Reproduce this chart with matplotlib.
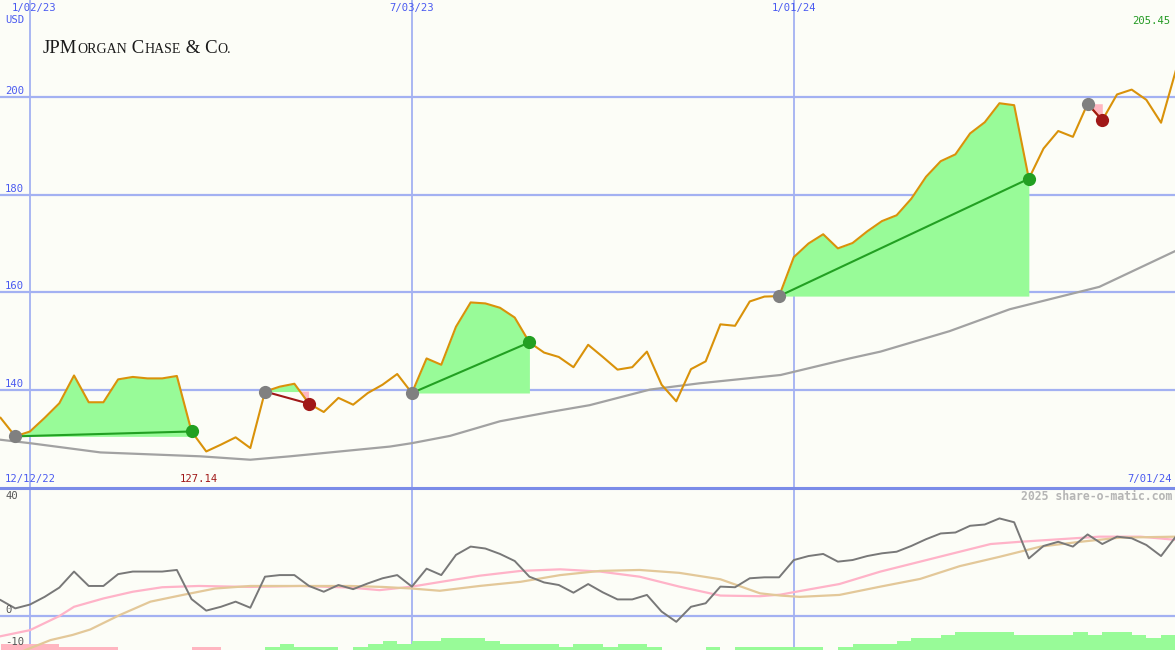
import numpy as np
import matplotlib
matplotlib.use("Agg")
import matplotlib.pyplot as plt
from matplotlib.lines import Line2D

# --- data (weekly, week 0 = 12/19/22) ---
price = [134.2, 130.4, 131.4, 134.2, 137.2, 142.9, 137.4, 137.4, 142.1, 142.6,
         142.3, 142.3, 142.8, 131.4, 127.3, 128.7, 130.2, 128.0, 139.6, 140.6,
         141.2, 137.1, 135.4, 138.3, 136.9, 139.3, 141.0, 143.2, 139.3, 146.4,
         145.1, 152.9, 157.9, 157.7, 156.8, 154.8, 149.7, 147.6, 146.7, 144.6,
         149.2, 146.7, 144.1, 144.6, 147.8, 141.0, 137.6, 144.2, 145.8, 153.4,
         153.1, 158.1, 159.1, 159.2, 167.2, 170.0, 171.9, 169.0, 170.1, 172.5,
         174.6, 175.8, 179.2, 183.7, 186.9, 188.3, 192.6, 194.9, 198.8, 198.4,
         183.3, 189.5, 193.1, 191.9, 198.7, 195.3, 200.6, 201.6, 199.5, 194.8,
         205.45]

# long moving average (read at a few points)
ma_weeks = [0, 2, 6.8, 13.6, 17, 19.7, 23.1, 26.5, 28, 30.6, 34, 37.4, 40.1,
            44.2, 47.6, 53.1, 57.8, 59.9, 64.6, 68.7, 74.8, 80]
ma_values = [129.7, 129.0, 127.1, 126.3, 125.6, 126.3, 127.3, 128.3, 129.0, 130.5,
             133.5, 135.4, 136.8, 140.0, 141.3, 143.0, 146.4, 147.8, 152.0, 156.5,
             161.1, 168.5]

# trades: entry / exit week
trade_entry = [1, 18, 28, 53, 74]
trade_exit = [13, 21, 36, 70, 75]

# lower panel indicator
osc = [5.0, 2.4, 3.6, 6.0, 8.9, 13.9, 9.4, 9.4, 13.1, 13.9,
       13.9, 13.9, 14.4, 5.3, 1.7, 2.9, 4.5, 2.6, 12.3, 12.8,
       12.8, 9.4, 7.6, 9.7, 8.4, 10.2, 11.8, 12.8, 9.2, 14.8,
       12.8, 19.1, 21.7, 21.1, 19.4, 17.2, 12.3, 10.5, 9.7, 7.3,
       10.0, 7.4, 5.2, 5.2, 6.6, 1.4, -1.8, 2.9, 4.0, 9.2,
       9.0, 11.8, 12.1, 12.1, 17.5, 18.75, 19.4, 17.0, 17.5, 18.75,
       19.6, 20.1, 21.9, 24.0, 25.8, 26.1, 28.2, 28.6, 30.5, 29.3,
       18.0, 21.9, 23.2, 21.7, 25.5, 22.5, 24.8, 24.3, 22.2, 18.75,
       24.8]

pink_weeks = [0, 2, 4, 5, 7, 9, 11, 13.5, 17, 20.4, 23.8, 25.8, 28, 30, 32.6,
              35.4, 38.1, 40.8, 43.5, 46.2, 49, 51.7, 53.1, 54.4, 57.1, 59.9,
              62.6, 65.3, 67.4, 69.4, 72.1, 74.8, 77.6, 80]
pink_values = [-6.3, -4.4, 0, 2.9, 5.5, 7.6, 9.0, 9.4, 9.1, 9.4, 8.9, 8.1, 9.2,
               10.7, 12.6, 14.1, 14.6, 13.9, 12.3, 9.2, 6.4, 6.2, 6.7, 7.8, 10.0,
               13.9, 17.0, 20.1, 22.5, 23.2, 24.0, 24.8, 24.8, 23.8]

tan_weeks = [0.8, 1.7, 3.4, 4.9, 6.1, 8.1, 10.2, 12.4, 14.6, 17, 20.4, 23.8, 26,
             28, 29.9, 32.6, 35.4, 38.1, 40.8, 43.5, 46.2, 49, 51.7, 53.1, 54.4,
             57.1, 59.9, 62.6, 65.3, 68, 70.8, 73.5, 76.2, 80]
tan_values = [-12.5, -10.6, -7.5, -5.9, -4.2, 0.3, 4.5, 6.6, 8.6, 9.4, 9.4, 9.4,
              9.1, 8.6, 7.9, 9.4, 10.7, 12.8, 14.1, 14.4, 13.5, 11.5, 7.1, 6.4,
              6.0, 6.6, 9.2, 11.6, 15.6, 18.5, 21.7, 23.2, 24.5, 24.8]

hist = [-2, -2, -2, -2, -1, -1, -1, -1, 0, 0,
        0, 0, 0, -1, -1, 0, 0, 0, 1, 2,
        1, 1, 1, 0, 1, 2, 3, 2, 3, 3,
        4, 4, 4, 3, 2, 2, 2, 2, 1, 2,
        2, 1, 2, 2, 1, 0, 0, 0, 1, 0,
        1, 1, 1, 1, 1, 1, 0, 1, 2, 2,
        2, 3, 4, 4, 5, 6, 6, 6, 6, 5,
        5, 5, 5, 6, 5, 6, 6, 5, 4, 5,
        5]

date_weeks = [2, 28, 54]
date_labels = ["1/02/23", "7/03/23", "1/01/24"]
price_ticks = [140, 160, 180, 200]
osc_ticks = [40, 0, -10]

# --- style ---
W, H = 1175, 650
bg = "#fcfdf7"
grid_c = "#a3b1f2"
sep_c = "#7b8ce8"
lab_c = "#4a5af0"
mono = "DejaVu Sans Mono"
weeks = np.arange(len(price))
price_a = np.array(price)

fig = plt.figure(figsize=(W / 100, H / 100), dpi=100, facecolor=bg)

def fx(px):
    return px / W

def fy(py):
    return 1 - py / H

ax = fig.add_axes([0, fy(487), 1, 487 / H], facecolor=bg)
ax2 = fig.add_axes([0, 0, 1, 162 / H], facecolor=bg)
for a in (ax, ax2):
    a.set_xlim(-0.04, 79.95)
    a.set_xticks([])
    a.set_yticks([])
    for s in a.spines.values():
        s.set_visible(False)
ax.set_ylim(120, 220)
ax2.set_ylim(-10.6, 40)

# grid
for v in price_ticks:
    ax.axhline(v, color=grid_c, lw=1.6, zorder=1)
ax2.axhline(0, color=grid_c, lw=1.6, zorder=1)
for wk in date_weeks:
    ax.axvline(wk, color=grid_c, lw=1.3, zorder=1)
    ax2.axvline(wk, color=grid_c, lw=1.3, zorder=1)
fig.add_artist(Line2D([0, 1], [fy(487.5), fy(487.5)], color=sep_c, lw=2.2))

# trade fills
for e, x in zip(trade_entry, trade_exit):
    seg = weeks[e:x + 1]
    lvl = price_a[e]
    ax.fill_between(seg, price_a[e:x + 1], lvl, where=price_a[e:x + 1] >= lvl,
                    interpolate=True, color="#98fb98", lw=0, zorder=2)
    ax.fill_between(seg, price_a[e:x + 1], lvl, where=price_a[e:x + 1] <= lvl,
                    interpolate=True, color="#ffb6c1", lw=0, zorder=2)

ax.plot(ma_weeks, ma_values, color="#a2a2a2", lw=1.6, zorder=3)
ax.plot(weeks, price, color="#d9920a", lw=1.5, zorder=4)

for e, x in zip(trade_entry, trade_exit):
    win = price[x] > price[e]
    lc = "#22a022" if win else "#a01818"
    ax.plot([e, x], [price[e], price[x]], color=lc, lw=1.5, zorder=5)
    ax.plot(e, price[e], "o", color="#808080", ms=9.5, mec="none", zorder=6)
    ax.plot(x, price[x], "o", color=lc, ms=9.5, mec="none", zorder=6)

# lower panel
hist_a = np.array(hist)
ax2.bar(weeks, np.abs(hist_a) * 0.95, width=1, align="edge", bottom=-10.6,
        color=np.where(hist_a > 0, "#98fb98", "#ffb6c1"), lw=0, zorder=2)
ax2.plot(pink_weeks, pink_values, color="#ffb3c8", lw=1.6, zorder=3)
ax2.plot(tan_weeks, tan_values, color="#e3c899", lw=1.6, zorder=3)
ax2.plot(weeks, osc, color="#787878", lw=1.4, zorder=4)

# texts
fs = 7.6
fig.text(fx(12), fy(8), "1/02/23", color=lab_c, family=mono, fontsize=fs, va="center")
for wk, lab in zip(date_weeks[1:], date_labels[1:]):
    px = 0.6 + 14.69 * wk
    fig.text(fx(px), fy(8), lab, color=lab_c, family=mono, fontsize=fs,
             va="center", ha="center")
fig.text(fx(5), fy(20), "USD", color=lab_c, family=mono, fontsize=fs, va="center")
for v in price_ticks:
    py = (220 - v) * 4.87
    fig.text(fx(5), fy(py - 6), str(v), color=lab_c, family=mono, fontsize=fs, va="center")
fig.text(fx(1170), fy(21), "205.45", color="#229922", family=mono, fontsize=fs,
         va="center", ha="right")
fig.text(fx(5), fy(479), "12/12/22", color=lab_c, family=mono, fontsize=fs, va="center")
fig.text(fx(180), fy(479), "127.14", color="#a01818", family=mono, fontsize=fs, va="center")
fig.text(fx(1172), fy(479), "7/01/24", color=lab_c, family=mono, fontsize=fs,
         va="center", ha="right")
for v, py in zip(osc_ticks, [496, 610, 642]):
    fig.text(fx(5), fy(py), str(v), color="#555555", family=mono, fontsize=fs, va="center")
fig.text(fx(1172), fy(496), "2025 share-o-matic.com", color="#b5b5b5", family=mono,
         fontsize=8.3, va="center", ha="right", fontweight="bold")

# logo in small caps
pieces = [("JPM", 13.5), ("ORGAN", 10), (" C", 13.5), ("HASE", 10),
          (" & C", 13.5), ("O.", 10)]
renderer = fig.canvas.get_renderer()
cx = 43
for s, size in pieces:
    t = fig.text(fx(cx), fy(53), s, family="Liberation Serif", fontsize=size,
                 va="baseline", color="#1a1a1a")
    cx += t.get_window_extent(renderer).width

fig.savefig("out.png", dpi=100, facecolor=bg)
